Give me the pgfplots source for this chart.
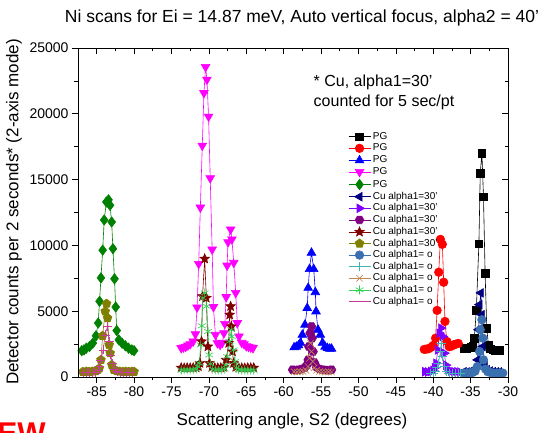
\documentclass[border=0pt]{standalone}
\usepackage{fontspec}
\setmainfont{Liberation Sans}
\usepackage{pgfplots}
\pgfplotsset{compat=1.18}
\usetikzlibrary{plotmarks}

\definecolor{c1}{HTML}{000000}
\definecolor{c2}{HTML}{FF0000}
\definecolor{c3}{HTML}{0000FF}
\definecolor{c4}{HTML}{FF00FF}
\definecolor{c5}{HTML}{008000}
\definecolor{c6}{HTML}{000080}
\definecolor{c7}{HTML}{8000FF}
\definecolor{c8}{HTML}{800080}
\definecolor{c9}{HTML}{800000}
\definecolor{c10}{HTML}{808000}
\definecolor{c11}{HTML}{3A70B0}
\definecolor{c12}{HTML}{40B4B4}
\definecolor{c13}{HTML}{C08850}
\definecolor{c14}{HTML}{30D050}
\definecolor{c15}{HTML}{C83C96}

% filled five-point star
\pgfdeclareplotmark{fstar}{%
  \pgfpathmoveto{\pgfpointpolar{90}{\pgfplotmarksize}}%
  \pgfpathlineto{\pgfpointpolar{126}{0.45\pgfplotmarksize}}%
  \pgfpathlineto{\pgfpointpolar{162}{\pgfplotmarksize}}%
  \pgfpathlineto{\pgfpointpolar{198}{0.45\pgfplotmarksize}}%
  \pgfpathlineto{\pgfpointpolar{234}{\pgfplotmarksize}}%
  \pgfpathlineto{\pgfpointpolar{270}{0.45\pgfplotmarksize}}%
  \pgfpathlineto{\pgfpointpolar{306}{\pgfplotmarksize}}%
  \pgfpathlineto{\pgfpointpolar{342}{0.45\pgfplotmarksize}}%
  \pgfpathlineto{\pgfpointpolar{18}{\pgfplotmarksize}}%
  \pgfpathlineto{\pgfpointpolar{54}{0.45\pgfplotmarksize}}%
  \pgfpathclose
  \pgfusepathqfillstroke}
% filled hexagon
\pgfdeclareplotmark{hexa}{%
  \pgfpathmoveto{\pgfpointpolar{0}{\pgfplotmarksize}}%
  \pgfpathlineto{\pgfpointpolar{60}{\pgfplotmarksize}}%
  \pgfpathlineto{\pgfpointpolar{120}{\pgfplotmarksize}}%
  \pgfpathlineto{\pgfpointpolar{180}{\pgfplotmarksize}}%
  \pgfpathlineto{\pgfpointpolar{240}{\pgfplotmarksize}}%
  \pgfpathlineto{\pgfpointpolar{300}{\pgfplotmarksize}}%
  \pgfpathclose
  \pgfusepathqfillstroke}

\pgfplotsset{
  ser/.style={color=#1, line width=0.6pt, mark options={solid, fill=#1, draw=#1}},
  legend image code/.code={\draw[mark repeat=2,mark phase=2] plot coordinates {(0pt,0pt) (11pt,0pt) (22pt,0pt)};},
  frame/.style={
    at={(0,0)}, anchor=south west,
    width=430pt, height=329pt, scale only axis,
    xmin=-87.5, xmax=-30, ymin=0, ymax=25000,
    xtick={-85,-80,...,-30}, ytick={0,5000,...,25000},
    minor x tick num=1, minor y tick num=1,
    major tick length=6pt, minor tick length=3.5pt,
    tick style={black, line width=0.6pt},
    axis line style={line width=0.8pt},
    scaled x ticks=false, scaled y ticks=false,
  },
}

\begin{document}
\begin{tikzpicture}
\useasboundingbox (-78pt,-56pt) rectangle (464pt,377pt);
\begin{axis}[
  frame,
  xtick pos=left, ytick pos=left, tick align=outside,
  /pgf/number format/assume math mode=true,
  /pgf/number format/1000 sep={},
  tick label style={font=\fontsize{14}{16}\selectfont},
  legend cell align=left,
  legend style={draw=none, fill=none, at={(0.621,0.751)}, anchor=north west,
    font=\fontsize{10}{11}\selectfont, row sep=2.4pt,
    nodes={inner ysep=0pt, inner xsep=2pt, text height=7.2pt, text depth=2pt}},
]
\addplot[ser=c1, mark=square*, mark size=3.8pt] coordinates {
(-35.9,2200) (-35.6,2180) (-35.3,2220) (-35.0,2250) (-34.7,2350) (-34.5,2950)
(-34.24,5060) (-33.89,10130) (-33.71,15470) (-33.49,17020) (-33.28,13690)
(-33.06,7860) (-32.84,3720) (-32.62,2440) (-32.35,2150) (-32.05,2080)
(-31.75,2050) (-31.45,2060) (-31.15,2050)};
\addlegendentry{PG}
\addplot[ser=c2, mark=*, mark size=4.3pt] coordinates {
(-41.2,2100) (-40.9,2120) (-40.6,2150) (-40.3,2250) (-40.0,2400) (-39.69,2950)
(-39.48,5060) (-39.26,7960) (-39.04,10460) (-38.78,10080) (-38.60,7200)
(-38.43,4220) (-38.17,2700) (-37.86,2300) (-37.55,2350) (-37.25,2450)
(-36.95,2500) (-36.65,2550)};
\addlegendentry{PG}
\addplot[ser=c3, mark=triangle*, mark size=5pt] coordinates {
(-58.6,2250) (-58.3,2300) (-58.0,2400) (-57.75,2600) (-57.5,3210) (-57.15,3970)
(-56.85,5240) (-56.72,6770) (-56.54,8200) (-56.28,9440) (-55.98,8200)
(-55.76,6440) (-55.67,4980) (-55.41,3590) (-55.1,3210) (-54.8,2600)
(-54.46,2300) (-54.15,2200) (-53.85,2150) (-53.6,2150)};
\addlegendentry{PG}
\addplot[ser=c4, mark=triangle*, mark size=5pt, every mark/.append style={rotate=180}] coordinates {
(-73.7,2200) (-73.4,2250) (-73.1,2300) (-72.8,2400) (-72.5,2500) (-72.1,2700)
(-71.80,3260) (-71.58,5290) (-71.36,8600) (-71.14,12880) (-70.88,17580)
(-70.66,21580) (-70.44,23560) (-70.26,22600) (-70.04,19790) (-69.82,15110)
(-69.56,9690) (-69.39,5320) (-69.12,3210) (-68.85,2570) (-68.5,2450)
(-68.2,2600) (-67.99,3330) (-67.86,4040) (-67.69,6080) (-67.56,8470)
(-67.44,10250) (-67.09,11220) (-66.92,10460) (-66.67,8680) (-66.41,6390)
(-66.2,4100) (-65.98,3080) (-65.6,2600) (-65.3,2500) (-65.0,2350)
(-64.7,2300) (-64.4,2250) (-64.1,2200)};
\addlegendentry{PG}
\addplot[ser=c5, mark=diamond*, mark size=5.2pt] coordinates {
(-87.0,2000) (-86.7,2060) (-86.39,2190) (-85.96,2310) (-85.52,2570)
(-85.09,3130) (-84.8,4100) (-84.62,5750) (-84.43,7530) (-84.2,9640)
(-84.0,11930) (-83.70,13300) (-83.42,13460) (-83.22,13050) (-83.0,11780)
(-82.83,9750) (-82.62,7460) (-82.46,5320) (-82.32,3530) (-82.04,2820)
(-81.61,2570) (-81.17,2370) (-80.74,2190) (-80.30,2060) (-80.0,2000)};
\addlegendentry{PG}
\addplot[ser=c6, mark=triangle*, mark size=5pt, every mark/.append style={rotate=90}] coordinates {
(-35.9,400) (-35.5,380) (-35.1,420) (-34.7,450) (-34.4,600) (-34.06,1300)
(-33.93,3590) (-33.80,5500) (-33.62,6390) (-33.49,4730) (-33.36,2310)
(-33.1,900) (-32.8,550) (-32.4,450) (-32.0,400) (-31.6,380) (-31.2,380)};
\addlegendentry{Cu alpha1=30'}
\addplot[ser=c7, mark=triangle*, mark size=5pt, every mark/.append style={rotate=-90}] coordinates {
(-41.1,400) (-40.7,380) (-40.3,420) (-40.0,500) (-39.8,700) (-39.61,1050)
(-39.39,2060) (-39.17,3330) (-38.95,3720) (-38.73,3080) (-38.52,1810)
(-38.3,900) (-38.0,550) (-37.6,450) (-37.2,400) (-36.8,400) (-36.4,380)};
\addlegendentry{Cu alpha1=30'}
\addplot[ser=c8, mark=hexa, mark size=4.4pt] coordinates {
(-58.8,550) (-58.4,520) (-58.0,550) (-57.6,600) (-57.2,700) (-56.9,900)
(-56.72,1300) (-56.63,2310) (-56.46,3330) (-56.28,3840) (-56.2,2950)
(-56.07,1930) (-55.9,1100) (-55.6,750) (-55.2,600) (-54.8,550) (-54.4,530)
(-54.0,520) (-53.6,550)};
\addlegendentry{Cu alpha1=30'}
\addplot[ser=c9, mark=fstar, mark size=5pt] coordinates {
(-73.7,700) (-73.3,680) (-72.9,700) (-72.5,690) (-72.1,700) (-71.7,720)
(-71.4,800) (-71.2,1050) (-70.98,2700) (-70.85,6130) (-70.56,8980)
(-70.34,6010) (-70.13,2310) (-69.91,1050) (-69.6,750) (-69.2,700)
(-68.8,690) (-68.4,700) (-68.0,750) (-67.69,1300) (-67.35,2570)
(-67.22,4730) (-67.09,5370) (-67.0,3840) (-66.84,1930) (-66.7,1050)
(-66.4,750) (-66.0,700) (-65.6,690) (-65.2,680) (-64.8,700) (-64.4,690)
(-64.0,700)};
\addlegendentry{Cu alpha1=30'}
\addplot[ser=c10, mark=pentagon*, mark size=4.6pt] coordinates {
(-86.84,400) (-86.4,420) (-86.0,400) (-85.6,420) (-85.2,450) (-84.9,520)
(-84.65,660) (-84.43,1300) (-84.21,3130) (-83.86,4980) (-83.68,5570)
(-83.55,4480) (-83.33,2440) (-83.20,1810) (-82.98,920) (-82.7,550)
(-82.3,450) (-81.9,420) (-81.5,400) (-81.1,420) (-80.7,400) (-80.3,410)
(-80.0,400)};
\addlegendentry{Cu alpha1=30'}
\addplot[ser=c11, mark=*, mark size=4.3pt] coordinates {
(-35.9,300) (-35.5,310) (-35.1,320) (-34.7,350) (-34.4,450) (-34.1,800)
(-33.80,1930) (-33.71,3590) (-33.49,4350) (-33.36,2950) (-33.28,1300)
(-33.0,600) (-32.7,400) (-32.3,330) (-31.9,300) (-31.5,300) (-31.1,310)
(-30.7,300)};
\addlegendentry{Cu alpha1= o}
\addplot[ser=c12, mark=+, mark size=4.5pt] coordinates {
(-40.4,270) (-40.0,280) (-39.7,400) (-39.5,700) (-39.30,1050) (-39.04,1930)
(-38.95,2570) (-38.73,1550) (-38.5,800) (-38.2,450) (-37.9,300) (-37.5,280)
(-37.1,270) (-36.7,270) (-36.4,270)};
\addlegendentry{Cu alpha1= o}
\addplot[ser=c13, mark=x, mark size=4.5pt] coordinates {
(-58.6,400) (-58.2,380) (-57.8,400) (-57.4,420) (-57.0,500) (-56.75,800)
(-56.54,1430) (-56.41,2570) (-56.28,1930) (-56.1,1170) (-55.9,700)
(-55.6,500) (-55.2,420) (-54.8,400) (-54.4,380) (-54.0,390) (-53.6,380)};
\addlegendentry{Cu alpha1= o}
\addplot[ser=c14, mark=asterisk, mark size=4.5pt] coordinates {
(-73.7,530) (-73.3,520) (-72.9,540) (-72.5,530) (-72.1,550) (-71.7,600)
(-71.5,800) (-71.28,1050) (-71.1,2440) (-70.95,3890) (-70.8,6010)
(-70.56,6390) (-70.3,5370) (-70.1,3460) (-69.95,1680) (-69.8,1000)
(-69.5,600) (-69.1,540) (-68.7,530) (-68.3,540) (-67.9,600) (-67.7,900)
(-67.56,1550) (-67.26,2700) (-67.0,3590) (-66.92,3080) (-66.71,2060)
(-66.5,1170) (-66.3,700) (-66.0,560) (-65.6,530) (-65.2,540) (-64.8,530)
(-64.4,530) (-64.0,520)};
\addlegendentry{Cu alpha1= o}
\addplot[ser=c15, mark=+, mark size=4.5pt, forget plot] coordinates {
(-86.8,330) (-86.4,320) (-86.0,340) (-85.6,330) (-85.2,350) (-84.8,500)
(-84.6,800) (-84.43,1300) (-84.13,2060) (-83.87,3200) (-83.57,3840)
(-83.35,2700) (-83.13,1680) (-82.91,1050) (-82.6,600) (-82.3,400)
(-81.9,340) (-81.5,330) (-81.1,320) (-80.7,330) (-80.3,330)};
\addlegendimage{color=c15, line width=0.6pt}
\addlegendentry{Cu alpha1= o}
\node[anchor=north west, align=left, font=\fontsize{16}{20}\selectfont]
  at (rel axis cs:0.54,0.93) {* Cu, alpha1=30'\\counted for 5 sec/pt};
\end{axis}
% top and right axes carry inward ticks and no labels
\begin{axis}[
  frame,
  xtick pos=right, ytick pos=right, tick align=inside,
  xticklabels={}, yticklabels={},
]
\end{axis}
\node[font=\fontsize{17.5}{20}\selectfont] at (224pt,359pt)
  {Ni scans for Ei = 14.87 meV, Auto vertical focus, alpha2 = 40'};
\node[font=\fontsize{17}{20}\selectfont] at (214pt,-44pt)
  {Scattering angle, S2 (degrees)};
\node[font=\fontsize{17}{20}\selectfont, rotate=90] at (-64pt,165pt)
  {Detector counts per 2 seconds* (2-axis mode)};
\node[anchor=north east, inner sep=0pt, text=red, font=\fontsize{30}{32}\selectfont\bfseries]
  at (-32pt,-46pt) {NEW};
\end{tikzpicture}
\end{document}
